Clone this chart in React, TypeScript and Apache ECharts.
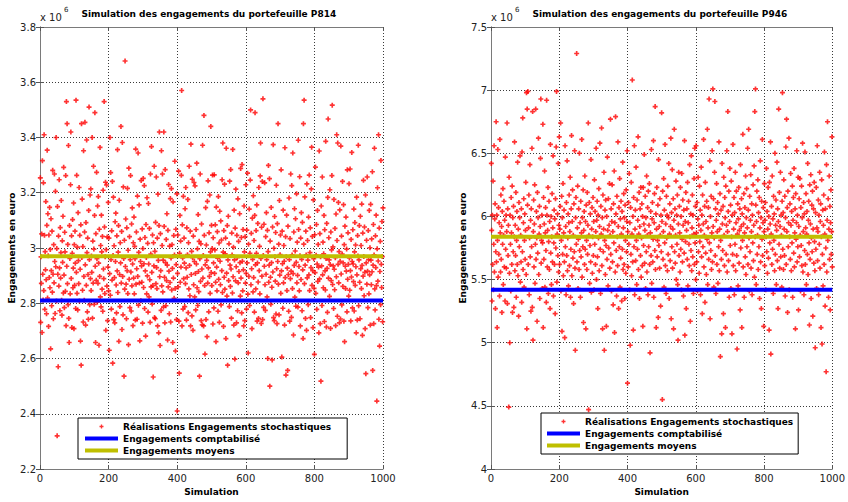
import React, { useEffect, useRef } from "react";
import * as echarts from "echarts";

// Values in thousands of euros, one per simulation 1..1000
const simulationsP814 = [
3254,2731,2968,2872,3051,2694,3316,2905,2812,3236,2846,3410,3046,2778,2987,2921,3168,2885,2762,3082,3354,2819,3124,2972,2716,3047,2893,3147,2856,2995,2635,3106,2918,2791,3061,2840,3281,2905,2744,3012,2874,3268,2951,2763,3205,2932,3400,2808,2998,2320,
3150,2905,2570,3043,2862,3247,2928,2773,3074,2891,2983,3172,2811,2757,3026,2948,3115,2837,3292,2902,2784,3057,2986,2843,3262,2719,3530,2934,3450,2871,3013,2795,3371,2745,2658,3081,2962,2834,3229,3420,2890,3044,2712,2981,3103,2856,2927,3163,2708,3012,
2865,3061,2945,2781,3535,2912,3263,2836,3003,2776,3128,2954,2871,3219,2808,3046,2923,2663,3084,2576,3450,2966,3177,2847,3005,2732,3352,2897,2811,3058,3455,2939,2721,3092,2865,3391,2983,2769,3036,2904,2742,3136,3510,2958,2795,3192,2889,3214,2846,2971,
2912,3400,2746,3025,2873,3296,2996,2796,3118,3490,2934,2658,3052,2883,3274,2961,2804,3152,2872,3186,2945,2648,3068,2897,3364,2823,3009,2787,3119,2986,2851,3042,2771,3209,2924,2889,3530,3076,2835,2968,3238,2702,2994,3228,2862,3040,2737,2931,3165,2845,
3036,2630,2907,3400,2829,3273,2958,2779,3062,2884,3241,2583,2973,3184,2741,3008,2893,2729,3095,2951,3126,2866,2765,3044,2917,3356,2839,2985,3081,2662,3173,2904,2788,3019,2946,3440,2873,3060,2705,3382,2897,2758,3221,2962,2536,3028,2851,3677,2933,3105,
2869,2744,3073,2918,3216,2835,2992,2650,3289,2887,3041,2784,2958,3262,2913,2772,3087,2863,3145,2942,2719,3019,2891,3112,2834,3006,2961,2739,3358,2869,3058,2925,2742,3188,2897,3344,2793,2984,3156,2873,2664,3032,2951,2809,3244,2935,2876,3069,2728,2998,
3252,2857,2943,3226,2781,3038,2917,2681,3085,2966,2834,3182,2899,3017,2768,3161,2942,2823,3071,2885,2731,3268,2978,2859,3367,2912,2797,3047,2864,2533,3019,2935,3296,2748,2988,2744,3093,2871,3257,2929,2853,3036,2718,3195,2955,2693,3081,3420,2896,2647,
3052,2918,2774,3352,2863,3009,3268,2841,2956,2786,3420,3078,2894,2729,3284,2947,2791,3031,2882,3124,2938,2667,3064,2859,3230,2916,2762,3007,2875,3179,2732,2964,3215,2848,3012,2926,2658,3167,2891,3045,2818,2975,3314,2853,2627,3068,2940,2741,3196,2410,
2908,3047,2859,3278,2735,2547,2981,3118,2876,3025,2931,3263,3570,2718,3084,2964,2779,3187,2889,3036,2945,2788,3142,2871,3219,2928,2739,3073,2894,2976,3176,2766,3019,2852,3296,2937,2827,3061,2718,3376,2904,2988,2754,3249,2965,2702,3043,2867,3237,2951,
2823,3225,2908,2776,3067,2942,3307,2856,2997,2792,3121,2915,2842,3024,2536,2961,3268,2879,3015,2737,3087,2924,2722,3372,2891,2973,2718,3480,3046,2864,2616,2939,3146,2741,3011,2955,2679,3169,2873,3243,2928,2769,3055,2897,3192,2836,2986,3440,2911,3082,
2864,2998,3264,2725,3037,2946,2783,3265,2908,2993,3084,2876,2661,3148,2931,2845,3059,2963,2771,3186,2887,3018,2731,3133,2952,2867,3098,2794,3029,2918,3247,2839,3380,2985,2716,3063,2894,3231,2851,2979,3036,2672,3361,2909,2826,3081,2576,2957,3115,2882,
3015,2788,3242,2938,2861,3284,2924,2746,3054,2975,2837,3357,2896,3003,2721,3137,2957,2598,3072,2881,3213,2932,2729,3046,2965,2773,3178,2874,3024,2915,2683,3124,2947,2826,3288,2891,3038,2765,3302,2952,2845,3067,2921,2718,3152,2986,2737,3041,2873,3229,
2908,2779,3065,2946,3271,2833,2620,3014,2897,3141,2792,2981,3246,3500,2867,3053,2925,2708,3108,2959,2841,3189,2893,3027,2768,3118,3490,2939,2852,3063,2981,3156,2735,2946,3089,2877,2745,3219,2918,3006,2834,3261,3380,2962,2727,3075,2898,3241,2741,3540,
2973,2785,3086,2934,3236,2867,2774,3041,2905,3128,2958,2823,3064,2600,2987,3299,2876,2938,3251,2500,3025,2894,2796,3147,2947,2858,2595,3076,2913,3374,2748,2999,2737,3114,2968,2880,3056,2761,3227,2925,2726,3088,2951,3450,2869,3014,2758,3172,2902,2976,
3047,2836,3283,2917,2605,3061,2943,2782,3137,2874,3009,2952,2721,3363,2893,3041,2540,2968,3119,2846,2927,2557,3079,2904,2771,3181,2958,2735,3034,2889,3268,2916,2749,3226,2975,2853,3344,2907,2685,3058,2937,3142,2822,2989,3106,2789,2948,3196,2874,3021,
2901,2786,3390,3067,2933,2845,3258,2972,2718,3036,2886,3128,2959,2773,3093,2921,2672,3450,3014,3535,2871,3185,2938,2745,3061,2975,2702,3232,2892,3027,2956,2795,3112,2903,3264,2846,2983,3073,2748,2929,3214,3365,2865,3042,2918,2712,3174,2961,2854,2615,
3048,2911,3293,2836,2974,3085,2778,2942,3136,2879,3013,2931,2693,3351,2888,3052,2726,2968,2518,3152,2935,2792,3257,2903,3021,2856,2979,3118,2734,3066,2917,2848,3386,2962,2714,3089,2926,2767,3183,3467,2891,3037,2957,2825,3211,2940,2709,3058,2882,2993,
3262,3517,2868,3004,2935,2781,3176,2923,2849,3071,2965,2719,3123,2896,3410,3027,2753,3380,2941,3165,2874,2987,2729,3138,2952,2743,3369,2906,3043,2794,2978,3241,2861,2946,3157,2735,3012,2661,3079,2934,2853,3112,2916,2996,2769,3283,2887,3055,2941,2826,
3233,2964,2847,3286,2918,2736,3031,2895,3346,2951,2783,3066,2942,2878,3141,2772,2986,3092,2865,3011,2932,2693,3184,2903,2739,3045,2971,3372,2791,2957,3081,2876,2744,3115,2925,3009,2853,3159,2937,2684,3054,2898,3245,2969,2827,3076,2912,2708,3192,2545,
2946,3028,2869,3257,2916,2784,3063,2958,2834,3136,2903,3001,2721,3158,2956,2867,3033,2914,3276,2557,2938,3085,2726,2975,3361,2852,2776,3044,2929,3119,2864,2446,2997,3218,2880,2953,3410,2742,3072,2645,2915,3024,2795,3317,2941,2857,3096,2969,2733,3145
];

const simulationsP946 = [
6420,5890,5330,6010,5620,6280,5420,5780,6560,5560,5980,6100,5270,5720,6750,5640,6010,5120,5810,6530,5520,6070,5700,5950,5370,6610,5870,5560,6170,5660,5920,5240,6040,5780,6220,5460,5850,6120,5600,5970,5330,6470,5740,6010,5590,5880,6740,5310,6060,5690,
5930,4490,6310,5550,5000,6010,5780,5410,6150,5870,5620,6240,5240,5990,5720,6080,5280,5840,6590,5570,5930,5690,6190,5360,5810,6040,5620,6430,5530,5900,5210,6110,5760,5990,6480,5480,5850,5640,6060,5320,6510,5720,6780,5580,5950,6140,5440,5810,6020,5660,
5890,6270,5540,6980,5110,6850,6090,6990,5620,5910,6170,5380,5830,6410,5680,5970,5250,6060,5760,6540,5280,6830,5020,5880,6130,5600,5940,6250,5470,5780,6850,5660,6040,5830,5170,6190,5710,5990,6620,5540,5860,6080,5350,5920,6460,6930,5630,5810,6010,5430,
5790,6730,5120,6150,5660,5940,6360,5440,5870,6070,5730,5320,6920,6010,5600,5890,6230,5390,5800,6120,5580,5960,5270,6570,5710,6000,5460,5840,6180,5640,5910,6480,5370,5790,6050,5620,5980,5230,6140,5750,6550,6990,5480,5860,6020,5690,6420,5560,5930,6630,
5620,5900,6080,6740,5410,5810,6160,5090,5990,5700,6260,5530,5870,6050,5640,5040,6560,5760,5920,5380,6110,5690,6440,5570,5830,6020,5450,5950,6170,5610,5880,6310,5360,5740,6060,6640,5530,5960,6210,5670,5850,5310,6100,5720,6520,5590,4940,5990,6150,5780,
7290,5640,5910,6240,5430,5820,6060,5580,6500,5730,5950,5360,6120,5680,5870,6610,5520,5990,5760,6210,5160,5890,6040,5620,6320,5740,5960,5110,6090,5810,5580,6190,5700,5930,6740,4470,5850,6110,5470,5770,6020,5640,6450,5400,5900,6070,5550,5840,6150,5690,
5960,5420,6290,5780,6040,5620,5880,6540,5500,5970,6120,5680,5270,6010,5830,6220,5570,5920,6580,5740,5390,6080,5860,6700,5610,5990,5110,6170,5720,5900,6350,4940,5810,6050,5540,6130,5770,5130,6000,5660,6470,5890,5450,6140,5750,5930,6260,5590,5850,6770,
5700,6060,5410,5960,6250,5640,5880,5300,6100,5790,6360,5080,5950,5560,6790,6020,5730,5370,6160,5840,5610,6590,5920,5270,6070,5760,6300,5440,5980,5670,6120,5860,5330,6040,5740,6430,5580,5910,6180,5620,5990,5350,6090,5810,5550,6210,5720,5960,6520,4680,
5880,5600,6110,5780,6340,5420,5950,4980,6070,5700,6270,5530,5860,7080,5640,6000,5100,6150,5760,6560,5380,5900,6050,5650,6390,5810,5460,6130,5740,5970,6630,5580,5860,6190,5350,5920,6060,5690,6230,5520,5830,6100,5610,6000,5130,6230,5770,5940,6490,5630,
5890,6160,5430,5990,5720,6320,5560,5850,6070,5380,6200,5760,5930,6260,5620,4920,5870,6040,5690,6530,5470,5980,6110,5640,5820,6600,5360,5950,6180,5730,6870,5580,6020,5120,5900,6230,5680,5810,6090,5200,6450,5770,5920,5590,6140,5850,5290,6010,5720,6820,
5960,4550,6200,5660,5880,6300,5440,6050,5790,6570,5610,5940,5390,6160,5830,6010,5570,6240,5700,5990,6420,5350,5860,6100,5650,5920,6620,5190,6030,5760,6370,5590,5900,6140,5110,5970,6690,5720,6060,5630,5850,6280,5500,6010,5780,6170,5460,5020,5940,6350,
5690,6080,5870,5560,6230,5740,6000,5420,6340,5820,5640,6130,5930,5370,6050,5710,6600,5060,5960,5800,6190,5270,5890,6060,5660,6270,5450,5950,6120,5780,5610,6410,5840,5170,6020,5730,6480,5570,5910,6170,5680,6010,5390,5860,6300,5620,6540,5790,6080,5500,
6560,5870,5640,6110,5410,5980,6310,5720,5930,5550,6240,5800,6050,5380,5890,6390,5680,6010,5230,6170,5760,5940,6610,5600,5850,6080,5320,6270,5710,5960,5540,6120,5820,6690,5460,5910,6070,5660,6930,5790,6440,5190,6000,5730,6160,5580,5870,6520,5640,7010,
5920,6140,5440,5830,6350,6910,5690,6060,5390,5970,6260,5620,5880,6110,5470,6020,5760,6590,5570,5900,6180,4890,5810,6050,5660,5070,6420,5940,5730,6080,5230,6310,5850,5610,6150,5990,5120,6240,5700,5930,6520,5560,5880,6830,6040,5650,6200,5360,5960,6380,
5770,6090,5430,6280,5840,5070,6010,5700,6570,5610,5900,6150,5380,6030,5780,6350,5570,5950,6200,5690,4950,5860,6100,5450,5980,6230,5630,5890,6060,5260,6410,5750,5920,6140,5120,6020,5810,6650,5600,5940,6180,5360,5870,6070,5680,6320,5540,5990,6220,5760,
5910,6540,5620,6050,6690,5830,5410,6160,5720,5970,6330,5590,5880,6100,5380,6010,5790,6250,5650,5930,6400,5520,6830,5840,7010,6090,5460,5960,6200,5700,5850,6290,5580,6030,5760,6150,5350,5910,6440,5640,5990,5270,6120,5820,6610,5690,5950,6070,5130,5880,
6260,5610,5970,6110,5420,5840,6380,5720,6040,5550,5900,6230,5670,6000,5100,6270,5790,5940,6590,4910,5860,6080,5620,6320,5740,5980,5390,6160,5810,6020,5570,6500,5700,5930,6130,5460,5890,6430,5650,6060,5270,5960,6850,5780,6190,5590,5920,6350,5680,6010,
5850,5440,6120,6980,5740,6030,5580,6290,5900,5690,6160,5370,5990,6550,5620,6770,5880,6070,5240,6200,5760,5950,6620,5420,5840,6100,5660,6340,5930,5570,6040,5790,6240,5360,5970,6150,5710,6380,5600,5870,6060,5110,6180,5820,5950,6520,5640,6010,5760,6310,
5260,5920,6140,5680,6300,5850,5410,6070,5770,6240,5610,5990,6580,5560,5880,6110,5380,6020,5730,6510,5620,5910,6180,5460,5860,6040,5700,6420,5540,5970,6120,5790,5140,6250,5660,5940,6330,5350,5830,6090,5720,6200,5210,5900,6060,5630,6270,5800,5570,4960,
6030,5740,6230,5430,5910,6560,5650,5880,6130,5380,6010,5780,6350,5590,5960,6100,5120,5840,6290,4990,5700,6050,5450,5930,6170,5620,6510,5860,5290,6060,5750,4770,6410,5560,5970,6750,5810,6140,5360,5900,6320,5660,6080,5260,5950,6210,5700,5880,6630,5600
];

const comptableP814 = 2810; // Engagements comptabilisé (k€)
const moyenP814 = 2970; // Engagements moyens (k€)
const comptableP946 = 5420;
const moyenP946 = 5840;

const seriesNames = [
  "Réalisations Engagements stochastiques",
  "Engagements comptabilisé",
  "Engagements moyens",
];
const titles = [
  "Simulation des engagements du portefeuille P814",
  "Simulation des engagements du portefeuille P946",
];

const FONT = "DejaVu Sans";
const STAR = "path://M2,0h2v2h2v2h-2v2h-2v-2h-2v-2h2z";

export default function App() {
  const ref = useRef<HTMLDivElement>(null);
  useEffect(() => {
    if (!ref.current) return;
    const chart = echarts.init(ref.current, undefined, { renderer: "svg" });
    const toM = (v: number) => v / 1000;
    const pts = (arr: number[]) => arr.map((v, i) => [i + 1, toM(v)]);
    const hline = (v: number) => [[0, toM(v)], [1000, toM(v)]];

    const gridDefs = [
      { left: 40, top: 27, width: 343, height: 442 },
      { left: 491, top: 27, width: 343, height: 442 },
    ];
    const yRanges = [
      { min: 2.2, max: 3.8, interval: 0.2 },
      { min: 4, max: 7.5, interval: 0.5 },
    ];
    const split = { show: true, lineStyle: { type: [1, 2] as any, color: "#3a3a3a", width: 1 } };
    const tick = { show: true, inside: true, length: 4, lineStyle: { color: "#555" } };
    const line = { show: true, lineStyle: { color: "#7a7a7a", width: 1 } };
    const fmt = (v: number) => String(Math.round(v * 100) / 100);

    const xAxis: any[] = [];
    const yAxis: any[] = [];
    [0, 1].forEach((g) => {
      xAxis.push({
        gridIndex: g, type: "value", min: 0, max: 1000, interval: 200,
        name: "Simulation", nameLocation: "middle", nameGap: 17,
        nameTextStyle: { fontFamily: FONT, fontWeight: "bold", fontSize: 9, color: "#000" },
        axisLine: line, axisTick: tick,
        axisLabel: { fontFamily: FONT, fontSize: 10, color: "#222", margin: 4, formatter: fmt },
        splitLine: split,
      });
      xAxis.push({
        gridIndex: g, type: "value", min: 0, max: 1000, interval: 200, position: "top",
        axisLine: line, axisTick: tick, axisLabel: { show: false }, splitLine: { show: false },
      });
      yAxis.push({
        gridIndex: g, type: "value", ...yRanges[g],
        name: "Engagements en euro", nameLocation: "middle", nameGap: 23,
        nameTextStyle: { fontFamily: FONT, fontWeight: "bold", fontSize: 9, color: "#000" },
        axisLine: line, axisTick: tick,
        axisLabel: { fontFamily: FONT, fontSize: 10, color: "#222", margin: 4, formatter: fmt },
        splitLine: split,
      });
      yAxis.push({
        gridIndex: g, type: "value", ...yRanges[g], position: "right",
        axisLine: line, axisTick: tick, axisLabel: { show: false }, splitLine: { show: false },
      });
    });

    const data = [
      { sims: simulationsP814, compt: comptableP814, moy: moyenP814 },
      { sims: simulationsP946, compt: comptableP946, moy: moyenP946 },
    ];
    const series: any[] = [];
    data.forEach((d, g) => {
      series.push({
        name: seriesNames[0], type: "scatter", xAxisIndex: g * 2, yAxisIndex: g * 2,
        data: pts(d.sims), symbol: STAR, symbolSize: 5,
        itemStyle: { color: "#ff0000" },
      });
      series.push({
        name: seriesNames[1], type: "line", xAxisIndex: g * 2, yAxisIndex: g * 2,
        data: hline(d.compt), showSymbol: false, symbol: "none",
        lineStyle: { color: "#0000ff", width: 4 }, itemStyle: { color: "#0000ff" },
      });
      series.push({
        name: seriesNames[2], type: "line", xAxisIndex: g * 2, yAxisIndex: g * 2,
        data: hline(d.moy), showSymbol: false, symbol: "none",
        lineStyle: { color: "#bfbf00", width: 4 }, itemStyle: { color: "#bfbf00" },
      });
    });

    const legendBase = {
      orient: "vertical", backgroundColor: "#fff", borderColor: "#000", borderWidth: 1,
      itemWidth: 33, itemHeight: 4, itemGap: 3, selectedMode: false,
      textStyle: { fontFamily: FONT, fontWeight: "bold", fontSize: 9, color: "#000" },
      data: [
        { name: seriesNames[0], icon: STAR, itemStyle: { color: "#ff0000", borderWidth: 0 } },
        { name: seriesNames[1], icon: "rect", itemStyle: { color: "#0000ff", borderWidth: 0 } },
        { name: seriesNames[2], icon: "rect", itemStyle: { color: "#bfbf00", borderWidth: 0 } },
      ],
    };

    const graphic: any[] = [];
    [0, 1].forEach((g) => {
      const gx = gridDefs[g].left;
      graphic.push({
        type: "text", left: gx + gridDefs[g].width / 2 - 130, top: 9,
        style: { text: titles[g], font: `bold 9px "${FONT}"`, fill: "#000", width: 260, align: "center" },
      });
      graphic.push({ type: "text", x: gx, y: 12, style: { text: "x 10", font: `10px "${FONT}"`, fill: "#222" } });
      graphic.push({ type: "text", x: gx + 24, y: 6, style: { text: "6", font: `7px "${FONT}"`, fill: "#222" } });
    });

    chart.setOption({
      animation: false,
      backgroundColor: "#fff",
      grid: gridDefs,
      xAxis, yAxis, series,
      legend: [
        { ...legendBase, left: 78, top: 418, padding: [4, 16, 4, 7] },
        { ...legendBase, left: 541, top: 413, padding: [4, 5, 4, 6] },
      ],
      graphic,
    });
    return () => chart.dispose();
  }, []);
  return <div ref={ref} style={{ position: "fixed", left: 0, top: 0, width: 848, height: 502, background: "#fff" }} />;
}
